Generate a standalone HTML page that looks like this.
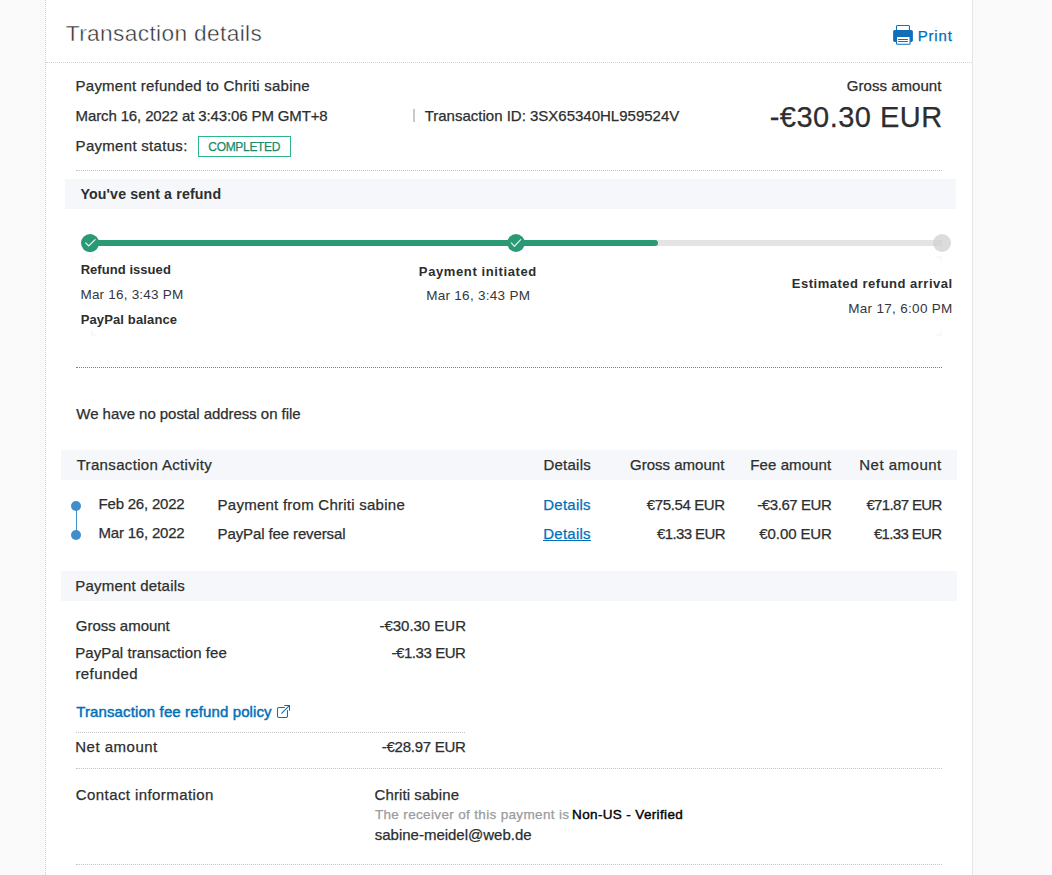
<!DOCTYPE html>
<html lang="en"><head><meta charset="utf-8"><title>Transaction details</title>
<style>
html,body{margin:0;padding:0}
body{width:1052px;height:875px;overflow:hidden;position:relative;background:#fafafa;font-family:"Liberation Sans", sans-serif;color:#2c2e2f}
.t{position:absolute;white-space:nowrap;line-height:1;font-size:15px;-webkit-text-stroke:0.25px currentColor}
.abs{position:absolute}
.hd{height:1px;--c:#c4c4c4;background:linear-gradient(var(--c),var(--c)) 0 0/2px 1px no-repeat,repeating-linear-gradient(to right,transparent 0 1px,var(--c) 1px 2px)}
.hd.ev{background:repeating-linear-gradient(to right,var(--c) 0 1px,transparent 1px 2px)}
.bar{background:#f5f7fa}
</style></head>
<body>
<!-- page panel -->
<div class="abs" style="left:46px;top:0;width:926px;height:875px;background:#fff"></div>
<div class="abs" style="left:45px;top:0;width:1px;height:875px;background:repeating-linear-gradient(to bottom,#d2d2d2 0 1px,#fff 1px 2px)"></div>
<div class="abs" style="left:972px;top:0;width:1px;height:875px;background:#e6e6e6"></div>
<!-- dotted rules -->
<div class="abs hd" style="left:46px;top:62px;width:926px;--c:#d2d2d2"></div>
<div class="abs hd" style="left:76px;top:170px;width:866px"></div>
<div class="abs hd" style="left:76px;top:367px;width:866px;--c:#7e7e7e"></div>
<div class="abs hd ev" style="left:76px;top:732px;width:390px"></div>
<div class="abs hd" style="left:76px;top:768px;width:866px"></div>
<div class="abs hd" style="left:76px;top:864px;width:866px"></div>
<!-- grey section bars -->
<div class="abs bar" style="left:65px;top:179px;width:891px;height:30px"></div>
<div class="abs bar" style="left:61px;top:450px;width:896px;height:30px"></div>
<div class="abs bar" style="left:61px;top:571px;width:896px;height:30px"></div>
<!-- separator pipe -->
<div class="abs" style="left:413.2px;top:109.3px;width:1.7px;height:13.2px;background:#c9c9c9"></div>
<!-- status badge -->
<div class="abs" style="left:198px;top:136px;width:91px;height:19px;border:1px solid #30b58b;background:#fff"></div>
<!-- print icon -->
<svg class="abs" style="left:893px;top:25px" width="20" height="20" viewBox="0 0 20 20">
  <rect x="3.5" y="0.55" width="13" height="7" rx="1" fill="#fff" stroke="#0f6fb8" stroke-width="1.1"/>
  <rect x="0.1" y="4.9" width="19.8" height="12" rx="1.7" fill="#0f6fb8"/>
  <rect x="3.5" y="11.5" width="13.6" height="7.8" rx="0.9" fill="#fff" stroke="#0f6fb8" stroke-width="1.1"/>
  <rect x="5.1" y="14" width="9.8" height="1" fill="#0f6fb8"/>
  <rect x="5.1" y="16" width="9.8" height="1" fill="#0f6fb8"/>
</svg>
<!-- refund progress tracker -->
<div class="abs" style="left:91px;top:255.8px;width:850.6px;height:80px;background:#f8f8f8"><div style="width:100%;height:100%;background:#fff;border-radius:9px"></div></div>
<div class="abs" style="left:86px;top:240px;width:856px;height:5.7px;border-radius:3px;background:#e4e4e4"></div>
<div class="abs" style="left:86px;top:240px;width:572px;height:5.7px;border-radius:3px;background:#2a9a76"></div>
<svg class="abs" style="left:81.1px;top:233.9px" width="18.1" height="18.1" viewBox="0 0 18 18">
  <circle cx="9" cy="9" r="9" fill="#2a9a76"/>
  <path d="M4.7 8.8 L7.7 11.9 L14 5.6" fill="none" stroke="#fff" stroke-opacity=".9" stroke-width="1.25" stroke-linecap="round" stroke-linejoin="miter"/>
</svg>
<svg class="abs" style="left:507px;top:233.9px" width="18" height="18" viewBox="0 0 18 18">
  <circle cx="9" cy="9" r="8.9" fill="#2a9a76"/>
  <path d="M4.3 8.9 L7.4 12.3 L13.7 5.6" fill="none" stroke="#fff" stroke-opacity=".82" stroke-width="1.25" stroke-linecap="round" stroke-linejoin="miter"/>
</svg>
<div class="abs" style="left:933.1px;top:234px;width:17.9px;height:18px;border-radius:50%;background:#dcdcdc;overflow:hidden"><div class="abs" style="left:0;top:6px;width:8.5px;height:5.6px;background:#d6d6d6"></div></div>
<!-- activity bullets -->
<div class="abs" style="left:75.5px;top:506px;width:1px;height:29px;background:#3f8fca"></div>
<div class="abs" style="left:71px;top:500.5px;width:10px;height:10px;border-radius:50%;background:#3f8fca"></div>
<div class="abs" style="left:71px;top:529.7px;width:10px;height:10px;border-radius:50%;background:#3f8fca"></div>
<!-- link underline -->
<div class="abs" style="left:543.4px;top:540px;width:47.4px;height:1px;background:#0070ba"></div>
<!-- external link icon -->
<svg class="abs" style="left:276px;top:704px" width="15" height="15" viewBox="0 0 15 15" fill="none" stroke="#0070ba" stroke-width="1.05" stroke-linecap="round" stroke-linejoin="round">
  <path d="M8.4 3.5 H3 a1.5 1.5 0 0 0 -1.5 1.5 V12 a1.5 1.5 0 0 0 1.5 1.5 H10 a1.5 1.5 0 0 0 1.5 -1.5 V6.6"/>
  <path d="M8.7 1.4 H13.5 V6.3"/>
  <path d="M13.3 1.6 L5.6 9.3"/>
</svg>

<span class="t" style="left:65.75px;top:22.00px;font-size:22.7px;letter-spacing:0.360px;-webkit-text-stroke:0.45px #fff">Transaction details</span>
<span class="t" style="left:917.63px;top:28.00px;font-size:15px;color:#0070ba;letter-spacing:0.833px;">Print</span>
<span class="t" style="left:75.58px;top:78.00px;font-size:15px;letter-spacing:0.226px;">Payment refunded to Chriti sabine</span>
<span class="t" style="left:75.58px;top:108.00px;font-size:15px;letter-spacing:-0.129px;">March 16, 2022 at 3:43:06 PM GMT+8</span>
<span class="t" style="left:424.66px;top:108.00px;font-size:15px;">Transaction ID: 3SX65340HL959524V</span>
<span class="t" style="left:75.58px;top:138.00px;font-size:15px;letter-spacing:0.298px;">Payment status:</span>
<span class="t" style="left:208.36px;top:141.00px;font-size:12px;color:#1b8a6b;letter-spacing:-0.328px;">COMPLETED</span>
<span class="t" style="left:846.83px;top:78.00px;font-size:15px;letter-spacing:0.035px;">Gross amount</span>
<span class="t" style="left:769.68px;top:103.00px;font-size:29px;letter-spacing:0.485px;">-€30.30 EUR</span>
<span class="t" style="left:80.40px;top:187.00px;font-size:14.2px;font-weight:700;-webkit-text-stroke:0;letter-spacing:0.147px;">You&#x27;ve sent a refund</span>
<span class="t" style="left:80.64px;top:262.90px;font-size:13px;font-weight:700;-webkit-text-stroke:0;letter-spacing:0.053px;">Refund issued</span>
<span class="t" style="left:80.44px;top:288.00px;font-size:13.5px;color:#34363a;letter-spacing:0.209px;-webkit-text-stroke:0">Mar 16, 3:43 PM</span>
<span class="t" style="left:80.64px;top:312.80px;font-size:13px;font-weight:700;-webkit-text-stroke:0;letter-spacing:0.136px;">PayPal balance</span>
<span class="t" style="left:418.87px;top:265.00px;font-size:13px;font-weight:700;-webkit-text-stroke:0;letter-spacing:0.612px;">Payment initiated</span>
<span class="t" style="left:426.18px;top:289.40px;font-size:13.5px;color:#34363a;letter-spacing:0.288px;-webkit-text-stroke:0">Mar 16, 3:43 PM</span>
<span class="t" style="left:791.87px;top:277.40px;font-size:13px;font-weight:700;-webkit-text-stroke:0;letter-spacing:0.496px;">Estimated refund arrival</span>
<span class="t" style="left:848.18px;top:302.40px;font-size:13.5px;color:#34363a;letter-spacing:0.313px;-webkit-text-stroke:0">Mar 17, 6:00 PM</span>
<span class="t" style="left:76.36px;top:406.30px;font-size:15px;letter-spacing:-0.046px;">We have no postal address on file</span>
<span class="t" style="left:76.67px;top:457.00px;font-size:15px;letter-spacing:0.339px;">Transaction Activity</span>
<span class="t" style="left:543.38px;top:457.00px;font-size:15px;letter-spacing:0.257px;">Details</span>
<span class="t" style="left:629.99px;top:457.00px;font-size:15px;letter-spacing:0.014px;">Gross amount</span>
<span class="t" style="left:750.23px;top:457.00px;font-size:15px;letter-spacing:0.101px;">Fee amount</span>
<span class="t" style="left:859.28px;top:457.00px;font-size:15px;letter-spacing:0.492px;">Net amount</span>
<span class="t" style="left:98.58px;top:496.00px;font-size:15px;letter-spacing:-0.215px;">Feb 26, 2022</span>
<span class="t" style="left:217.58px;top:497.00px;font-size:15px;letter-spacing:0.250px;">Payment from Chriti sabine</span>
<span class="t" style="left:543.29px;top:497.00px;font-size:15px;color:#0070ba;letter-spacing:0.239px;">Details</span>
<span class="t" style="left:646.77px;top:497.00px;font-size:15px;letter-spacing:-0.376px;">€75.54 EUR</span>
<span class="t" style="left:757.26px;top:497.00px;font-size:15px;letter-spacing:-0.417px;">-€3.67 EUR</span>
<span class="t" style="left:866.39px;top:497.00px;font-size:15px;letter-spacing:-0.638px;">€71.87 EUR</span>
<span class="t" style="left:98.58px;top:524.60px;font-size:15px;letter-spacing:-0.215px;">Mar 16, 2022</span>
<span class="t" style="left:217.58px;top:526.00px;font-size:15px;letter-spacing:-0.116px;">PayPal fee reversal</span>
<span class="t" style="left:543.29px;top:526.00px;font-size:15px;color:#0070ba;letter-spacing:0.239px;">Details</span>
<span class="t" style="left:656.93px;top:526.00px;font-size:15px;letter-spacing:-0.584px;">€1.33 EUR</span>
<span class="t" style="left:759.33px;top:526.00px;font-size:15px;letter-spacing:-0.095px;">€0.00 EUR</span>
<span class="t" style="left:873.93px;top:526.00px;font-size:15px;letter-spacing:-0.650px;">€1.33 EUR</span>
<span class="t" style="left:75.28px;top:578.00px;font-size:15px;letter-spacing:0.195px;">Payment details</span>
<span class="t" style="left:75.83px;top:618.00px;font-size:15px;letter-spacing:-0.026px;">Gross amount</span>
<span class="t" style="left:379.43px;top:617.60px;font-size:15px;letter-spacing:-0.015px;">-€30.30 EUR</span>
<span class="t" style="left:75.28px;top:645.00px;font-size:15px;letter-spacing:0.069px;">PayPal transaction fee</span>
<span class="t" style="left:75.41px;top:665.50px;font-size:15px;letter-spacing:0.415px;">refunded</span>
<span class="t" style="left:391.43px;top:645.20px;font-size:15px;letter-spacing:-0.426px;">-€1.33 EUR</span>
<span class="t" style="left:76.16px;top:703.60px;font-size:15px;color:#0070ba;letter-spacing:0.122px;-webkit-text-stroke:0.45px #0070ba">Transaction fee refund policy</span>
<span class="t" style="left:75.28px;top:739.00px;font-size:15px;letter-spacing:0.492px;">Net amount</span>
<span class="t" style="left:381.73px;top:739.00px;font-size:15px;letter-spacing:-0.250px;">-€28.97 EUR</span>
<span class="t" style="left:75.80px;top:786.50px;font-size:15px;letter-spacing:0.414px;">Contact information</span>
<span class="t" style="left:374.60px;top:786.50px;font-size:15px;letter-spacing:0.085px;">Chriti sabine</span>
<span class="t" style="left:374.93px;top:808.40px;font-size:13.5px;color:#999b9d;letter-spacing:0.343px;">The receiver of this payment is</span>
<span class="t" style="left:572.10px;top:808.40px;font-size:13.5px;color:#000;letter-spacing:0.354px;-webkit-text-stroke:0.4px #000">Non-US - Verified</span>
<span class="t" style="left:374.76px;top:826.60px;font-size:15px;letter-spacing:-0.008px;">sabine-meidel@web.de</span>
</body></html>
